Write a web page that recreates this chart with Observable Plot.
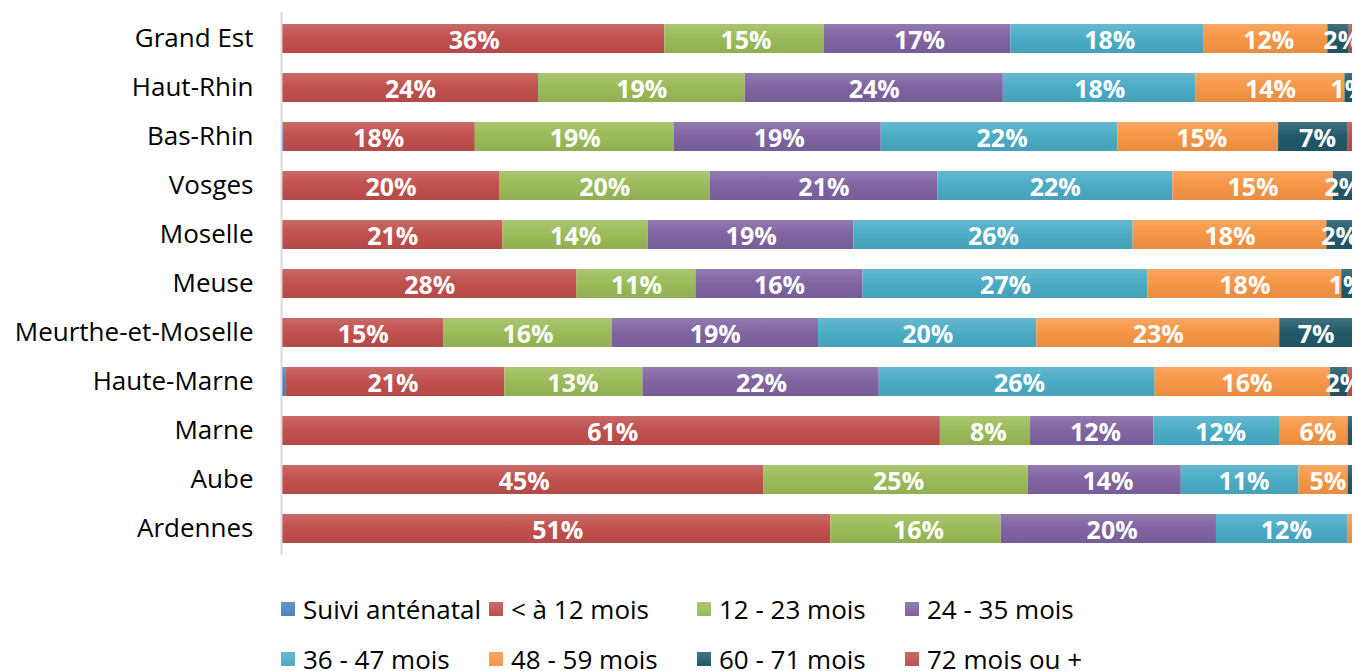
<!DOCTYPE html>
<html><head><meta charset="utf-8">
<script src="https://cdn.jsdelivr.net/npm/d3@7"></script>
<script src="https://cdn.jsdelivr.net/npm/@observablehq/plot@0.6"></script>
<style>
body{margin:0;background:#fff;font-family:"Open Sans",sans-serif;}
#wrap{position:relative;width:1354px;height:671px;overflow:hidden;}
.leg{position:absolute;display:flex;align-items:center;font-size:26px;color:#000;white-space:nowrap;}
.leg span.sw{display:inline-block;width:14px;height:14px;margin-right:8px;}
</style></head>
<body><div id="wrap"><div id="chart"></div></div>
<script>
const categories = ["Grand Est","Haut-Rhin","Bas-Rhin","Vosges","Moselle","Meuse","Meurthe-et-Moselle","Haute-Marne","Marne","Aube","Ardennes"];
const seriesNames = ["Suivi anténatal","< à 12 mois","12 - 23 mois","24 - 35 mois","36 - 47 mois","48 - 59 mois","60 - 71 mois","72 mois ou +"];
const seriesColors = ["#4F81BD","#C0504D","#9BBB59","#8064A2","#4BACC6","#F79646","#215968","#C0504D"];
const suivi = [0,0,0.1,0,0,0,0,0.3,0,0,0];
const lt12  = [35.7,23.9,17.9,20.3,20.6,27.5,15.1,20.5,61.3,45.0,51.2];
const m12   = [14.9,19.3,18.6,19.7,13.6,11.1,15.7,12.9,8.4,24.7,15.9];
const m24   = [17.4,24.1,19.3,21.3,19.2,15.6,19.3,22.1,11.5,14.3,20.1];
const m36   = [18.0,18.0,22.1,22.0,26.1,26.6,20.4,25.8,11.7,11.0,12.3];
const m48   = [11.6,13.9,15.0,15.0,18.1,18.1,22.7,16.4,6.4,4.6,0.4];
const m60   = [2.0,0.7,6.5,1.8,2.4,1.0,6.8,1.6,0.4,0.4,0];
const m72   = [0.3,0,0.4,0,0,0,0,0.45,0,0,0];
const seriesValues = [suivi,lt12,m12,m24,m36,m48,m60,m72];

const data = [];
categories.forEach((c,i)=>seriesNames.forEach((s,k)=>data.push({cat:c,series:s,k,value:seriesValues[k][i]})));

const grad = k => `url(#g${k})`;
const opts = {x:"value",y:"cat",z:"series",order:seriesNames,offset:"normalize"};

const chart = Plot.plot({
  width:1354, height:565,
  marginLeft:282, marginRight:2, marginTop:12, marginBottom:10,
  x:{domain:[0,1],axis:null},
  y:{domain:categories,paddingInner:0.4,paddingOuter:0.2,label:null,tickSize:0,tickPadding:29},
  color:{type:"identity"},
  style:{fontFamily:"'Open Sans', sans-serif",fontSize:"26px",color:"#000"},
  marks:[
    Plot.barX(data, Plot.stackX({...opts, fill:d=>grad(d.k)})),
    Plot.text(data.filter(d=>Math.round(d.value)>=1), Plot.stackX({...opts,
      text:d=>Math.round(d.value)+"%", fill:"white", fontWeight:"bold", fontSize:25, dy:2})),
    Plot.ruleX([0],{stroke:"#d9d9d9",strokeWidth:2,dx:-1})
  ]
});
// gradients
const ns="http://www.w3.org/2000/svg";
const defs=document.createElementNS(ns,"defs");
seriesColors.forEach((c,k)=>{
  const g=document.createElementNS(ns,"linearGradient");
  g.setAttribute("id","g"+k);g.setAttribute("x1","0");g.setAttribute("y1","0");g.setAttribute("x2","0");g.setAttribute("y2","1");
  const top=d3.interpolateRgb(c,"#fff")(0.15);
  const bot=d3.color(c).darker(0.2).formatHex();
  [[0,top],[0.5,c],[1,bot]].forEach(([o,col])=>{
    const s=document.createElementNS(ns,"stop");s.setAttribute("offset",o);s.setAttribute("stop-color",col);g.appendChild(s);
  });
  defs.appendChild(g);
});
chart.insertBefore(defs,chart.firstChild);
chart.querySelectorAll("[aria-label='y-axis tick label'] text").forEach(t=>t.setAttribute("fill","#000"));
document.getElementById("chart").appendChild(chart);

// legend
const wrap=document.getElementById("wrap");
const legendPos=[[281,610],[489,610],[697,610],[905,610],[281,660],[489,660],[697,660],[905,660]];
seriesNames.forEach((s,k)=>{
  const d=document.createElement("div");d.className="leg";
  d.style.left=legendPos[k][0]+"px";d.style.top=(legendPos[k][1]-17)+"px";d.style.height="32px";
  d.innerHTML=`<span class="sw" style="background:linear-gradient(${d3.interpolateRgb(seriesColors[k],"#fff")(0.15)},${seriesColors[k]})"></span><span></span>`;
  d.lastChild.textContent=s;
  wrap.appendChild(d);
});
</script></body></html>
